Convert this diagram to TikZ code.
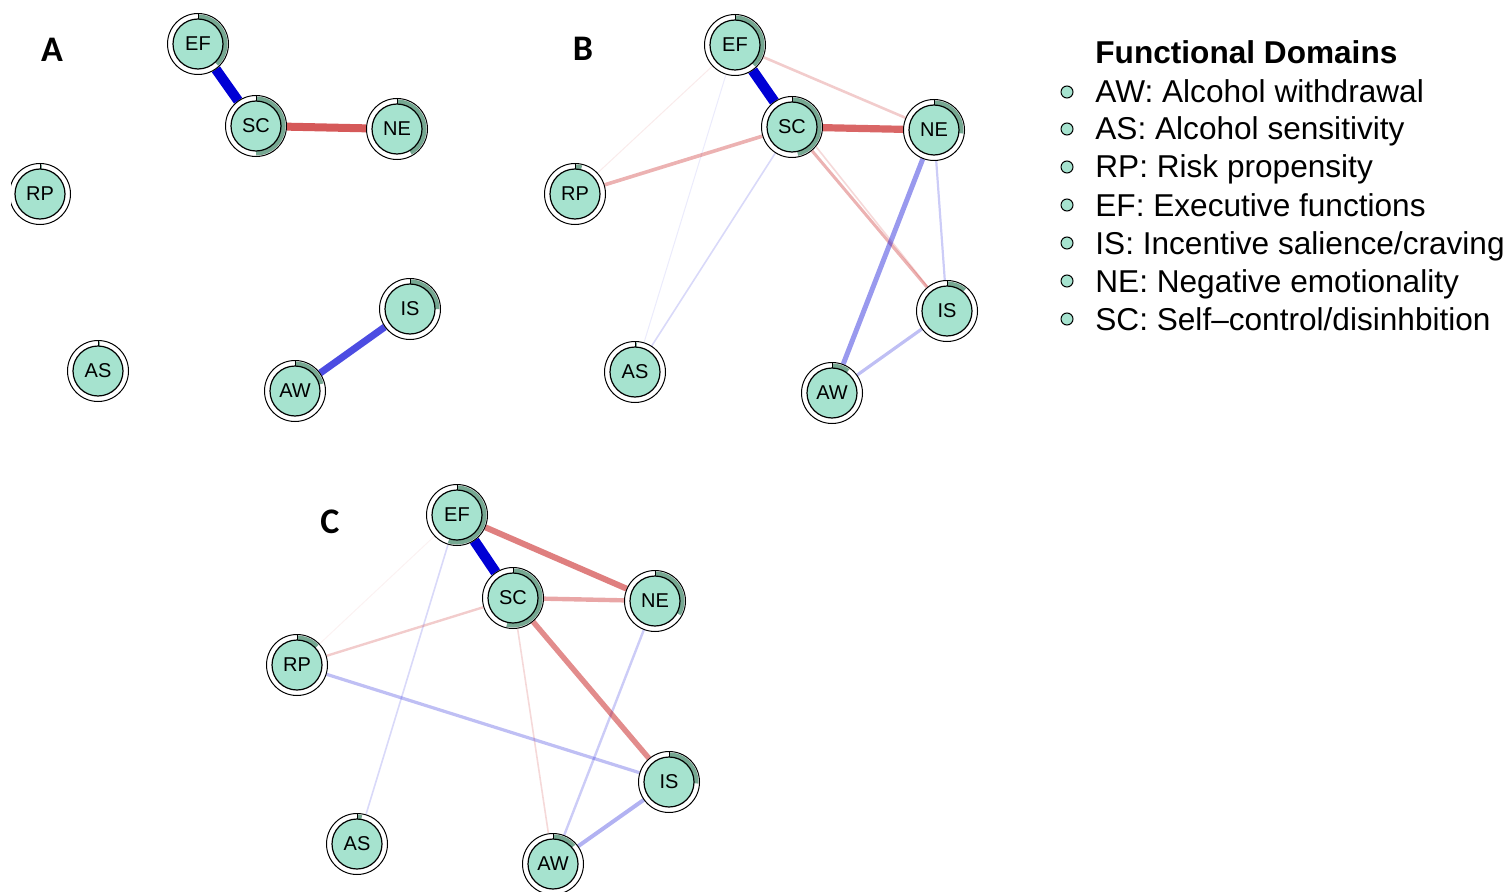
\documentclass[tikz,border=0pt]{standalone}
\usepackage{fontspec}
\setmainfont{Liberation Sans}
\newfontfamily\carlito{Carlito}
\usetikzlibrary{calc}
\pgfdeclarelayer{bg}
\pgfsetlayers{bg,main}
\definecolor{ngreen}{RGB}{166,227,207}
\definecolor{pgreen}{RGB}{118,168,146}
\definecolor{posb}{RGB}{0,0,213}
\definecolor{negr}{RGB}{191,0,0}
\tikzset{
  qnode/.style={circle, minimum size=30.5pt, inner sep=0pt, draw=black, line width=0.5pt, fill=white,
    font=\fontsize{10}{11}\selectfont,
    path picture={
      \fill[pgreen] (path picture bounding box.center) ++(90:14.75pt)
        arc[start angle=90, end angle=90-#1, radius=14.75pt] -- ++(270-#1:2.25pt)
        arc[start angle=90-#1, end angle=90, radius=12.5pt] -- cycle;
      \draw[black, line width=0.4pt] (path picture bounding box.center) ++(0,12.5pt) -- ++(0,2.6pt);
      \draw[black, line width=0.6pt, fill=ngreen] (path picture bounding box.center) circle (12.5pt);
    }},
  pe/.style 2 args={draw=posb, draw opacity=#1, line width=#2pt},
  ne/.style 2 args={draw=negr, draw opacity=#1, line width=#2pt},
  plabel/.style={font=\carlito\bfseries\fontsize{18}{20}\selectfont},
  bullet/.style={circle, minimum size=6pt, inner sep=0pt, draw=black, line width=0.5pt, fill=ngreen},
  legtext/.style={anchor=base west, inner sep=0pt, font=\fontsize{15.8}{18}\selectfont},
  leghead/.style={anchor=base west, inner sep=0pt, font=\bfseries\fontsize{15.8}{18}\selectfont},
}
\begin{document}
\begin{tikzpicture}[x=0.5pt, y=0.5pt]
\useasboundingbox (0,0) rectangle (1509,891);
% ---------- Panel A ----------
\node[plabel] (lA) at (52,841) {A};
\node[qnode=137] (aEF) at (198,847) {EF};
\node[qnode=180] (aSC) at (256,765) {SC};
\node[qnode=150] (aNE) at (397,762) {NE};
\begin{scope}
  \clip (11,0) rectangle (1509,891);
  \node[qnode=4] (aRP) at (40,697) {RP};
\end{scope}
\node[qnode=4] (aAS) at (98,520) {AS};
\node[qnode=75] (aAW) at (295,500) {AW};
\node[qnode=90] (aIS) at (410,582) {IS};
% ---------- Panel B ----------
\node[plabel] (lB) at (583,842) {B};
\node[qnode=137] (bEF) at (735,846) {EF};
\node[qnode=168] (bSC) at (792,764) {SC};
\node[qnode=97] (bNE) at (934,761) {NE};
\node[qnode=14] (bRP) at (575,697) {RP};
\node[qnode=4] (bAS) at (635,519) {AS};
\node[qnode=36] (bAW) at (832,498) {AW};
\node[qnode=40] (bIS) at (947,580) {IS};
% ---------- Panel C ----------
\node[plabel] (lC) at (330,369) {C};
\node[qnode=198] (cEF) at (457,376) {EF};
\node[qnode=193] (cSC) at (513,293) {SC};
\node[qnode=119] (cNE) at (655,290) {NE};
\node[qnode=47] (cRP) at (297,226) {RP};
\node[qnode=10] (cAS) at (357,47) {AS};
\node[qnode=49] (cAW) at (553,27) {AW};
\node[qnode=93] (cIS) at (669,109) {IS};
% ---------- Edges ----------
\begin{pgfonlayer}{bg}
  % A
  \draw[pe={1}{5}] (aEF) -- (aSC);
  \draw[ne={0.65}{4}] (aSC) -- (aNE);
  \draw[pe={0.7}{3.5}] (aAW) -- (aIS);
  % B
  \draw[ne={0.08}{0.5}] (bEF) -- (bRP);
  \draw[pe={0.08}{0.5}] (bEF) -- (bAS);
  \draw[pe={0.15}{0.8}] (bSC) -- (bAS);
  \draw[ne={0.15}{0.8}] (bEF) -- (bIS);
  \draw[ne={0.2}{1.3}] (bEF) -- (bNE);
  \draw[ne={0.3}{1.8}] (bSC) -- (bRP);
  \draw[ne={0.3}{1.5}] (bSC) -- (bIS);
  \draw[pe={0.2}{1.1}] (bNE) -- (bIS);
  \draw[pe={0.25}{1.6}] (bIS) -- (bAW);
  \draw[pe={0.4}{2.5}] (bNE) -- (bAW);
  \draw[ne={0.6}{3.6}] (bSC) -- (bNE);
  \draw[pe={1}{5.2}] (bEF) -- (bSC);
  % C
  \draw[ne={0.05}{0.5}] (cEF) -- (cRP);
  \draw[pe={0.15}{0.8}] (cEF) -- (cAS);
  \draw[ne={0.15}{0.8}] (cSC) -- (cAW);
  \draw[ne={0.2}{1.2}] (cSC) -- (cRP);
  \draw[pe={0.2}{1.2}] (cNE) -- (cAW);
  \draw[pe={0.25}{1.6}] (cRP) -- (cIS);
  \draw[pe={0.3}{2}] (cIS) -- (cAW);
  \draw[ne={0.35}{2.2}] (cSC) -- (cNE);
  \draw[ne={0.45}{2.7}] (cSC) -- (cIS);
  \draw[ne={0.5}{3}] (cEF) -- (cNE);
  \draw[pe={1}{5.2}] (cEF) -- (cSC);
\end{pgfonlayer}
% ---------- Legend ----------
\node[leghead] (lh) at (1095,827) {Functional Domains};
\node[bullet] (b1) at (1067,799) {};
\node[legtext] (t1) at (1095,788) {AW: Alcohol withdrawal};
\node[bullet] (b2) at (1067,762) {};
\node[legtext] (t2) at (1095,751) {AS: Alcohol sensitivity};
\node[bullet] (b3) at (1067,724) {};
\node[legtext] (t3) at (1095,713) {RP: Risk propensity};
\node[bullet] (b4) at (1067,686) {};
\node[legtext] (t4) at (1095,675) {EF: Executive functions};
\node[bullet] (b5) at (1067,648) {};
\node[legtext] (t5) at (1095,637) {IS: Incentive salience/craving};
\node[bullet] (b6) at (1067,610) {};
\node[legtext] (t6) at (1095,599) {NE: Negative emotionality};
\node[bullet] (b7) at (1067,572) {};
\node[legtext] (t7) at (1095,561) {SC: Self--control/disinhbition};
\end{tikzpicture}
\end{document}
